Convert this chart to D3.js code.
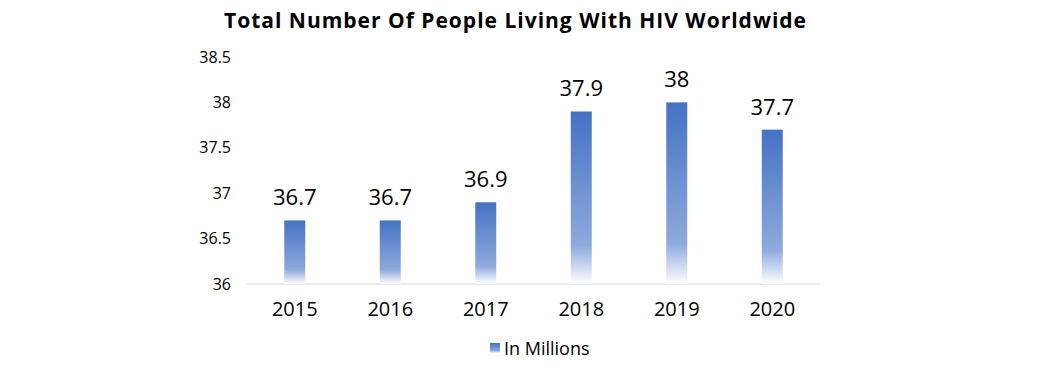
<!DOCTYPE html>
<html>
<head>
<meta charset="utf-8">
<script src="https://cdn.jsdelivr.net/npm/d3@7"></script>
<style>
  body { margin: 0; background: #fff; }
  svg { font-family: "Open Sans", "Noto Sans", sans-serif; }
</style>
</head>
<body>
<div id="chart"></div>
<script>
// data
const years = ["2015", "2016", "2017", "2018", "2019", "2020"];
const values = [36.7, 36.7, 36.9, 37.9, 38, 37.7];
const yTicks = [36, 36.5, 37, 37.5, 38, 38.5];
const seriesName = "In Millions";
const title = "Total Number Of People Living With HIV Worldwide";

const width = 1057, height = 370;
const margin = {left: 247, right: 237, top: 57, bottom: 86};

const svg = d3.select("#chart")
    .append("svg")
    .attr("width", width)
    .attr("height", height);

// gradient like the excel fill
const defs = svg.append("defs");
const grad = defs.append("linearGradient")
    .attr("id", "barGrad")
    .attr("x1", 0).attr("y1", 0).attr("x2", 0).attr("y2", 1);
grad.append("stop").attr("offset", "0%").attr("stop-color", "#4472c4");
grad.append("stop").attr("offset", "78%").attr("stop-color", "#8faadc");
grad.append("stop").attr("offset", "100%").attr("stop-color", "#ffffff");

const x = d3.scaleBand()
    .domain(years)
    .range([margin.left, width - margin.right]);

const y = d3.scaleLinear()
    .domain([36, 38.5])
    .range([height - margin.bottom, margin.top]);

const barW = 21;

// baseline
svg.append("line")
    .attr("x1", margin.left).attr("x2", width - margin.right)
    .attr("y1", y(36)).attr("y2", y(36))
    .attr("stroke", "#d9d9d9").attr("stroke-width", 1);

// y axis labels
const yAxis = d3.axisLeft(y).tickValues(yTicks).tickSize(0).tickPadding(16)
    .tickFormat(d => d3.format("")(d));
svg.append("g")
    .attr("transform", "translate(" + margin.left + ",0)")
    .call(yAxis)
    .call(g => g.select(".domain").remove())
    .selectAll("text")
    .attr("font-size", 16)
    .attr("fill", "#000")
    .attr("font-family", "Open Sans, Noto Sans, sans-serif");

// x axis labels
const xAxis = d3.axisBottom(x).tickSize(0).tickPadding(18);
svg.append("g")
    .attr("transform", "translate(0," + y(36) + ")")
    .call(xAxis)
    .call(g => g.select(".domain").remove())
    .selectAll("text")
    .attr("font-size", 20)
    .attr("fill", "#000")
    .attr("font-family", "Open Sans, Noto Sans, sans-serif");

// bars
svg.selectAll(".bar")
    .data(values)
    .join("rect")
    .attr("class", "bar")
    .attr("x", (d, i) => x(years[i]) + x.bandwidth() / 2 - barW / 2)
    .attr("y", d => y(d))
    .attr("width", barW)
    .attr("height", d => y(36) - y(d))
    .attr("fill", "url(#barGrad)");

// value labels
svg.selectAll(".lbl")
    .data(values)
    .join("text")
    .attr("class", "lbl")
    .attr("x", (d, i) => x(years[i]) + x.bandwidth() / 2)
    .attr("y", d => y(d) - 15)
    .attr("text-anchor", "middle")
    .attr("font-size", 22)
    .attr("fill", "#000")
    .text(d => d);

// title
svg.append("text")
    .attr("x", 515)
    .attr("y", 28)
    .attr("text-anchor", "middle")
    .attr("font-size", 21)
    .attr("font-weight", "bold")
    .attr("fill", "#000")
    .attr("textLength", 582)
    .attr("lengthAdjust", "spacing")
    .text(title);

// legend
const lg = svg.append("g").attr("transform", "translate(490,343)");
lg.append("rect")
    .attr("width", 10).attr("height", 10)
    .attr("fill", "url(#barGrad)");
lg.append("text")
    .attr("x", 14).attr("y", 12)
    .attr("font-size", 18)
    .attr("fill", "#000")
    .text(seriesName);
</script>
</body>
</html>
